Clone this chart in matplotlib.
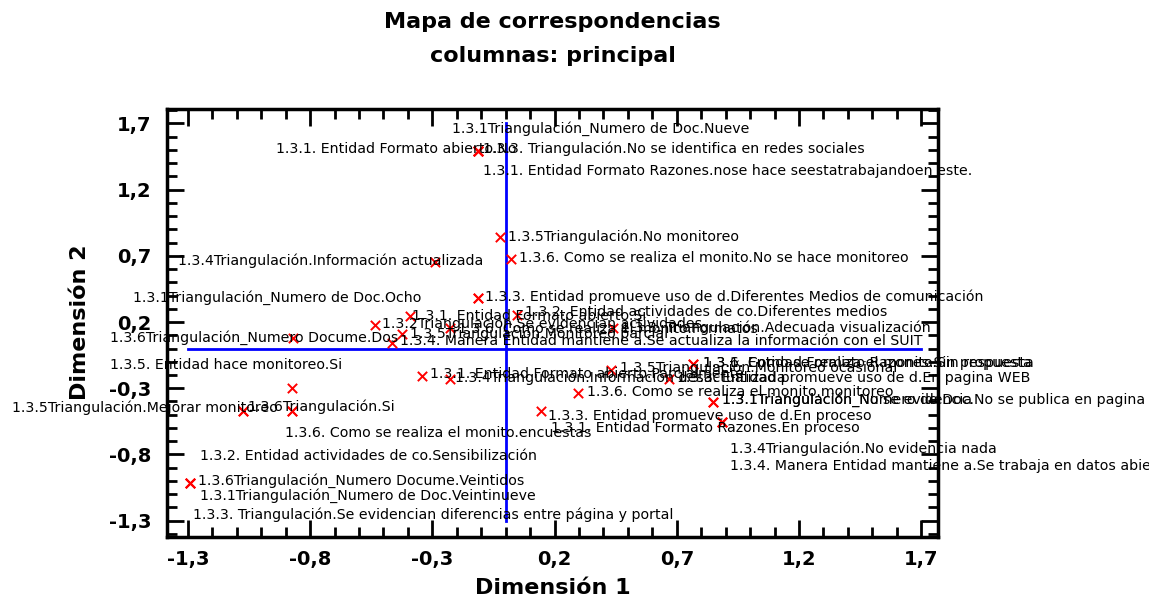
import matplotlib
matplotlib.use("Agg")
import matplotlib.pyplot as plt
from matplotlib.ticker import MultipleLocator

plt.rcParams['font.family'] = ['DejaVu Sans']

# Axis ticks (comma decimal separator)
tick_values = [-1.3, -0.8, -0.3, 0.2, 0.7, 1.2, 1.7]
tick_labels = ["-1,3", "-0,8", "-0,3", "0,2", "0,7", "1,2", "1,7"]

# Column categories and their principal coordinates
categories = [
    "1.3.1Triangulación_Numero de Doc.Nueve",
    "1.3.1. Entidad Formato abierto.No",
    "1.3.3. Triangulación.No se identifica en redes sociales",
    "1.3.1. Entidad Formato Razones.nose hace seestatrabajandoen este.",
    "1.3.5Triangulación.No monitoreo",
    "1.3.6. Como se realiza el monito.No se hace monitoreo",
    "1.3.4Triangulación.Información actualizada",
    "1.3.1Triangulación_Numero de Doc.Ocho",
    "1.3.3. Entidad promueve uso de d.Diferentes Medios de comunicación",
    "1.3.2. Entidad actividades de co.Diferentes medios",
    "1.3.1. Entidad Formato abierto.Si",
    "1.3.2Triangulación.Se evidencian actividades",
    "1.3.5Triangulación.Monitoreo parcial",
    "1.3.4. Manera Entidad mantiene a.Se actualiza la información con el SUIT",
    "1.3.6. Como se realiza el monito.Formatos",
    "1.3.3. Triangulación.Adecuada visualización",
    "1.3.6Triangulación_Numero Docume.Dos",
    "1.3.5. Entidad hace monitoreo.Si",
    "1.3.5Triangulación.Mejorar monitoreo",
    "1.3.6Triangulación.Si",
    "1.3.6. Como se realiza el monito.encuestas",
    "1.3.2. Entidad actividades de co.Sensibilización",
    "1.3.6Triangulación_Numero Docume.Veintidos",
    "1.3.1Triangulación_Numero de Doc.Veintinueve",
    "1.3.3. Triangulación.Se evidencian diferencias entre página y portal",
    "1.3.1. Entidad Formato abierto.Parcialmente",
    "1.3.4Triangulación.Información desactualizada",
    "1.3.5Triangulación.Monitoreo ocasional",
    "1.3.6. Como se realiza el monito.Sin respuesta",
    "1.3.1. Entidad Formato Razones.Sin propuesta",
    "1.3.3. Entidad promueve uso de d.En pagina WEB",
    "1.3.6. Como se realiza el monito.monitoreo",
    "1.3.1Triangulación_No se evidencia",
    "1.3.1Triangulación_Numero de Doc.No se publica en pagina WEB",
    "1.3.3. Entidad promueve uso de d.En proceso",
    "1.3.1. Entidad Formato Razones.En proceso",
    "1.3.4Triangulación.No evidencia nada",
    "1.3.4. Manera Entidad mantiene a.Se trabaja en datos abiertos",
]

dim1 = [
    -0.113, -0.113, -0.113, -0.113, -0.023, 0.022, -0.289, -0.113, -0.113,
    0.046, -0.392, -0.535, -0.424, -0.465, -0.228, 0.440,
    -0.869, -0.874, -1.075, -0.874, -0.874, -1.075, -1.291, -1.291, -1.291,
    -0.343, -0.228, 0.431, 0.766, 0.766, 0.668, 0.296, 0.849, 0.849,
    0.145, 0.885, 0.885, 0.885,
]

dim2 = [
    1.491, 1.491, 1.491, 1.491, 0.845, 0.679, 0.653, 0.381, 0.381,
    0.253, 0.245, 0.177, 0.109, 0.042, 0.155, 0.155,
    0.079, -0.298, -0.472, -0.472, -0.472, -0.472, -1.015, -1.015, -1.015,
    -0.208, -0.230, -0.162, -0.117, -0.117, -0.230, -0.336, -0.404, -0.404,
    -0.472, -0.555, -0.555, -0.555,
]

# Where each category name is written (left edge, vertical centre)
label_x = [
    -0.219, -0.940, -0.093, -0.093, 0.009, 0.054, -1.340, -1.524, -0.085,
    0.079, -0.383, -0.505, -0.391, -0.432, -0.195, 0.472,
    -1.619, -1.619, -2.020, -1.058, -0.903, -1.250, -1.258, -1.250, -1.279,
    -0.309, -0.206, 0.468, 0.808, 0.808, 0.700, 0.332, 0.885, 0.885,
    0.173, 0.186, 0.918, 0.918,
]

label_y = [
    1.657, 1.506, 1.506, 1.340, 0.842, 0.683, 0.660, 0.381, 0.389,
    0.275, 0.245, 0.190, 0.115, 0.055, 0.150, 0.160,
    0.079, -0.125, -0.449, -0.442, -0.638, -0.811, -1.000, -1.113, -1.257,
    -0.193, -0.222, -0.147, -0.109, -0.109, -0.222, -0.328, -0.389, -0.389,
    -0.509, -0.600, -0.758, -0.887,
]

fig = plt.figure(figsize=(11.49, 5.98), dpi=100)
ax = fig.add_axes([0.1453, 0.102, 0.6711, 0.7157])
ax.set_xlim(-1.386, 1.769)
ax.set_ylim(-1.423, 1.808)

# Reference axes through the origin
ax.plot([tick_values[0], tick_values[-1]], [0, 0], color='#0000ff', lw=2, zorder=2)
ax.plot([0, 0], [tick_values[0], tick_values[-1]], color='#0000ff', lw=2, zorder=2)

ax.scatter(dim1, dim2, marker='x', color='#ff0000', s=45, linewidths=1.4, zorder=3)

for name, lx, ly in zip(categories, label_x, label_y):
    ax.text(lx, ly, name, fontsize=10.2, ha='left', va='center', color='black',
            clip_on=False, zorder=4)

ax.set_xticks(tick_values, tick_labels)
ax.set_yticks(tick_values, tick_labels)
ax.xaxis.set_minor_locator(MultipleLocator(0.1))
ax.yaxis.set_minor_locator(MultipleLocator(0.1))
ax.tick_params(which='both', direction='in', top=True, right=True, width=2, color='black')
ax.tick_params(which='major', length=12)
ax.tick_params(which='minor', length=7)
ax.tick_params(axis='x', which='major', pad=9, labelsize=14)
ax.tick_params(axis='y', which='major', pad=11, labelsize=14)
for lab in ax.get_xticklabels() + ax.get_yticklabels():
    lab.set_fontweight('bold')
for sp in ax.spines.values():
    sp.set_linewidth(2.5)
    sp.set_color('black')

fig.text(0.481, 0.963, "Mapa de correspondencias", ha='center', va='center',
         fontsize=16, fontweight='bold')
fig.text(0.481, 0.906, "columnas: principal", ha='center', va='center',
         fontsize=16, fontweight='bold')
fig.text(0.481, 0.017, "Dimensión 1", ha='center', va='center',
         fontsize=16, fontweight='bold')
fig.text(0.0696, 0.4615, "Dimensión 2", ha='center', va='center',
         fontsize=16, fontweight='bold', rotation=90)

fig.savefig("out.png", dpi=100)
